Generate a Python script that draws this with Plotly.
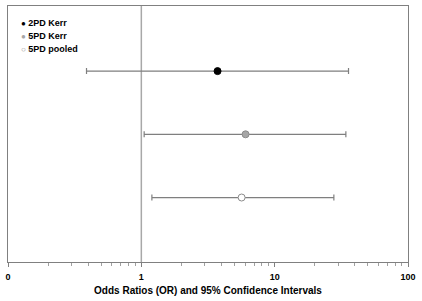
import plotly.graph_objects as go

names = ["2PD Kerr", "5PD Kerr", "5PD pooled"]
ors = [3.73, 6.05, 5.65]
ci_low = [0.388, 1.05, 1.20]
ci_high = [35.8, 34.2, 27.8]
ypos = [3, 2, 1]
fills = ["#000000", "#a6a6a6", "#ffffff"]
lines = ["#000000", "#8c8c8c", "#8c8c8c"]
legend_glyphs = ["●", "●", "○"]
legend_glyph_colors = ["#000000", "#a6a6a6", "#8c8c8c"]

tick_vals = [0.1, 1, 10, 100]
tick_text = ["0", "1", "10", "100"]
minor_vals = [m * d for d in [0.1, 1, 10] for m in range(2, 10)]

fig = go.Figure()
for n, o, lo, hi, y, fc, lc in zip(names, ors, ci_low, ci_high, ypos, fills, lines):
    fig.add_trace(go.Scatter(
        x=[o], y=[y], mode="markers", name=n, showlegend=False,
        marker=dict(size=7, color=fc, line=dict(color=lc, width=1)),
        error_x=dict(type="data", symmetric=False, array=[hi - o], arrayminus=[o - lo],
                     color="#7f7f7f", thickness=1.2, width=3),
    ))

fig.add_shape(type="line", xref="x", yref="paper", x0=1, x1=1, y0=0, y1=1,
              line=dict(color="#a8a8a8", width=1.5), layer="below")

# manual legend
plot_h = 301 - 6 - 39
for i, (n, g, gc) in enumerate(zip(names, legend_glyphs, legend_glyph_colors)):
    yy = 1 - (17 + 13 * i) / plot_h
    fig.add_annotation(xref="paper", yref="paper", x=0.028, y=yy, xanchor="left", yanchor="middle",
                       showarrow=False,
                       text=f"<span style='color:{gc};font-size:8px'>{g}</span> {n}",
                       font=dict(size=9, weight="bold", color="#000000"))

fig.update_layout(
    width=422, height=301,
    margin=dict(l=8, r=14, t=6, b=39),
    paper_bgcolor="white", plot_bgcolor="white",
    font=dict(family="Liberation Sans, Arial, sans-serif", color="#000000"),
    showlegend=False,
    xaxis=dict(type="log", range=[-1, 2], tickmode="array", tickvals=tick_vals, ticktext=tick_text,
               ticks="outside", ticklen=4, tickcolor="#808080", showgrid=False, zeroline=False,
               showline=True, linecolor="#808080", mirror=True, linewidth=1, automargin=False,
               ticklabelstandoff=2,
               tickfont=dict(size=9, weight="bold"),
               title=dict(text="Odds Ratios (OR) and 95% Confidence Intervals",
                          font=dict(size=10, weight="bold"), standoff=6),
               minor=dict(tickmode="array", tickvals=minor_vals, ticks="outside", ticklen=3,
                          tickcolor="#a0a0a0", showgrid=False)),
    yaxis=dict(range=[-0.02, 4.03], showticklabels=False, ticks="", showgrid=False, zeroline=False,
               showline=True, linecolor="#808080", mirror=True, linewidth=1, automargin=False),
)

fig.write_html("out.html", config={"displayModeBar": False},
               post_script="document.body.style.margin='0';document.body.style.overflow='hidden';")
